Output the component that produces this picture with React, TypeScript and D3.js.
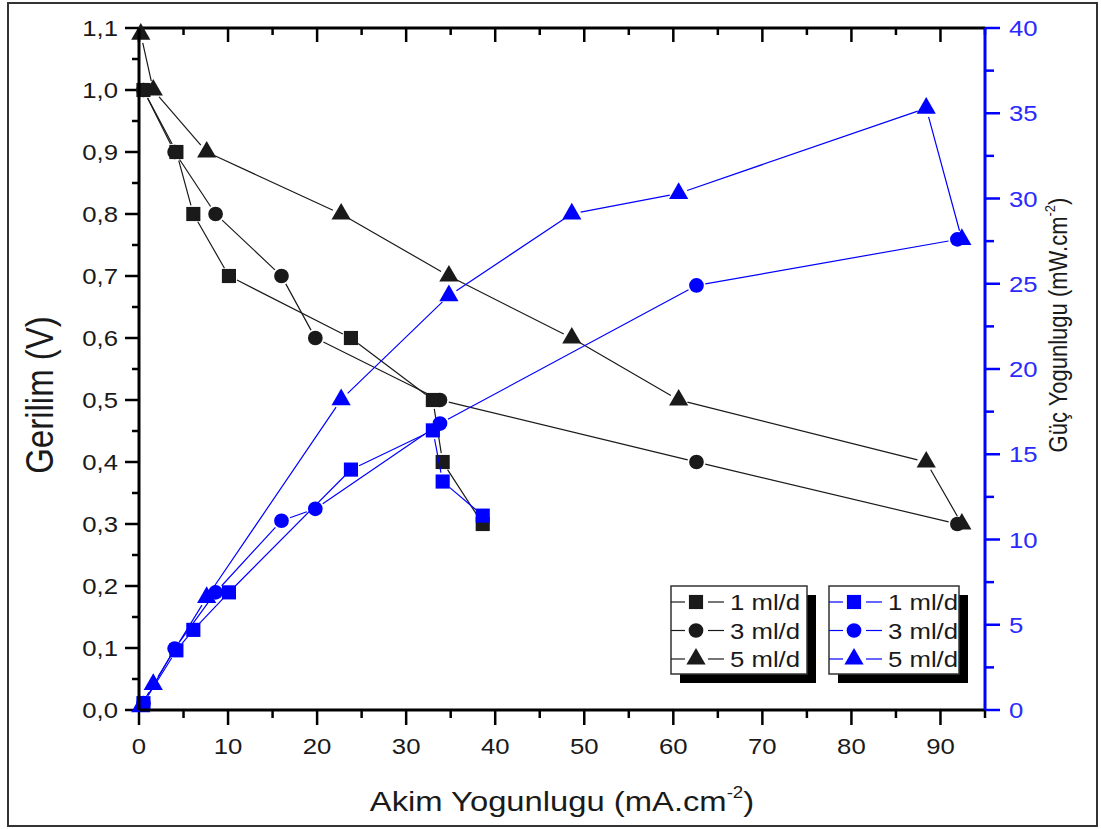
import React from "react";
import * as d3 from "d3";

// akim yogunlugu (mA/cm2), gerilim (V), guc yogunlugu (mW/cm2)
const current1 = [0.5, 4.2, 6.1, 10.1, 23.8, 33.0, 34.1, 38.6];
const voltage1 = [1.0, 0.9, 0.8, 0.7, 0.6, 0.5, 0.4, 0.3];
const power1 = [0.4, 3.5, 4.7, 6.9, 14.1, 16.4, 13.4, 11.4];

const current3 = [0.5, 4.0, 8.6, 16.0, 19.8, 33.8, 62.6, 91.9];
const voltage3 = [1.0, 0.9, 0.8, 0.7, 0.6, 0.5, 0.4, 0.3];
const power3 = [0.4, 3.6, 6.9, 11.1, 11.8, 16.8, 24.9, 27.6];

const current5 = [0.2, 1.6, 7.6, 22.7, 34.8, 48.6, 60.6, 88.4, 92.4];
const voltage5 = [1.09, 1.0, 0.9, 0.8, 0.7, 0.6, 0.5, 0.4, 0.3];
const power5 = [0.2, 1.5, 6.6, 18.2, 24.3, 29.1, 30.3, 35.3, 27.6];

const seriesLabels = ["1 ml/d", "3 ml/d", "5 ml/d"];
const xTicks = [0, 10, 20, 30, 40, 50, 60, 70, 80, 90];
const yTicks = [0, 0.1, 0.2, 0.3, 0.4, 0.5, 0.6, 0.7, 0.8, 0.9, 1.0, 1.1];
const y2Ticks = [0, 5, 10, 15, 20, 25, 30, 35, 40];

const BLACK = "#1a1a1a";
const BLUE = "#0000ff";
const FONT = "'Liberation Sans', Arial, sans-serif";
const SX = 1.17; // the picture's text is a bit wider than plain Arial

const left = 139, right = 985, top = 28, bottom = 710;

const x = d3.scaleLinear().domain([0, 95]).range([left, right]);
const y = d3.scaleLinear().domain([0, 1.1]).range([bottom, top]);
const y2 = d3.scaleLinear().domain([0, 40]).range([bottom, top]);

const shapes = [d3.symbolSquare, d3.symbolCircle, d3.symbolTriangle];
const sizes = [200, 170, 160];
const sym = (i: number) => d3.symbol().type(shapes[i]).size(sizes[i])() as string;

// Origin style: the line stops short of each symbol
function gapped(pts: [number, number][], gap = 9) {
  const segs: string[] = [];
  for (let i = 0; i < pts.length - 1; i++) {
    const [x0, y0] = pts[i];
    const [x1, y1] = pts[i + 1];
    const len = Math.hypot(x1 - x0, y1 - y0);
    if (len <= gap * 2) continue;
    const ux = (x1 - x0) / len, uy = (y1 - y0) / len;
    segs.push(`M${x0 + ux * gap},${y0 + uy * gap}L${x1 - ux * gap},${y1 - uy * gap}`);
  }
  return segs.join("");
}

function T({ x, y, anchor = "start", size = 22, fill = BLACK, children }: any) {
  return (
    <g transform={`translate(${x},${y}) scale(${SX},1)`}>
      <text textAnchor={anchor} fontSize={size} fill={fill}>{children}</text>
    </g>
  );
}

function Series({ xs, ys, scale, color, shape }: any) {
  const pts: [number, number][] = xs.map((v: number, i: number) => [x(v), scale(ys[i])]);
  return (
    <g>
      <path d={gapped(pts)} fill="none" stroke={color} strokeWidth={1.2} />
      {pts.map(([px, py], i) => (
        <path key={i} d={sym(shape)} transform={`translate(${px},${py})`} fill={color} />
      ))}
    </g>
  );
}

function Legend({ x0, color, lineColor, w }: any) {
  const y0 = 586, h = 88;
  return (
    <g>
      <rect x={x0 + 9} y={y0 + 9} width={w} height={h} fill="#000" />
      <rect x={x0} y={y0} width={w} height={h} fill="#fff" stroke="#333" strokeWidth={1.5} />
      {seriesLabels.map((lab, i) => {
        const ry = 602 + i * 28.5;
        return (
          <g key={lab}>
            <line x1={x0} x2={x0 + 14} y1={ry} y2={ry} stroke={lineColor} strokeWidth={1.2} />
            <line x1={x0 + 37} x2={x0 + 53} y1={ry} y2={ry} stroke={lineColor} strokeWidth={1.2} />
            <path d={sym(i)} transform={`translate(${x0 + 25},${ry})`} fill={color} />
            <T x={x0 + 59} y={ry + 8}>{lab}</T>
          </g>
        );
      })}
    </g>
  );
}

export default function App() {
  const xMinor = d3.range(0, 96, 5);
  const yMinor = d3.range(0, 23).map((i) => i * 0.05);
  const y2Minor = d3.range(0, 41, 2.5);
  const fmt = (v: number) => v.toFixed(1).replace(".", ",");
  return (
    <svg width={1101} height={829} style={{ position: "absolute", left: 0, top: 0, background: "#fff" }} fontFamily={FONT}>
      <rect x={8} y={3} width={1089} height={823} fill="#fff" stroke="#333" strokeWidth={2} />

      {/* bottom axis */}
      {xMinor.map((v) => (
        <line key={"bx" + v} x1={x(v)} x2={x(v)} y1={bottom} y2={bottom + (v % 10 === 0 ? 15 : 8)} stroke="#000" strokeWidth={2.5} />
      ))}
      {xTicks.map((v) => (
        <T key={"bl" + v} x={x(v)} y={754} anchor="middle">{v}</T>
      ))}
      {/* top axis, ticks inward */}
      {xMinor.map((v) => (
        <line key={"tx" + v} x1={x(v)} x2={x(v)} y1={top} y2={top + (v % 10 === 0 ? 14 : 7)} stroke="#000" strokeWidth={2.5} />
      ))}
      <line x1={left} x2={right} y1={top} y2={top} stroke="#000" strokeWidth={3} />

      {/* left axis */}
      {yMinor.map((v, i) => (
        <line key={"ly" + i} x1={left} x2={left - (i % 2 === 0 ? 14 : 7)} y1={y(v)} y2={y(v)} stroke="#000" strokeWidth={2.5} />
      ))}
      {yTicks.map((v) => (
        <T key={"yl" + v} x={118} y={y(v) + 8} anchor="end">{fmt(v)}</T>
      ))}

      {/* right axis */}
      {y2Minor.map((v) => (
        <line key={"ry" + v} x1={right} x2={right + (v % 5 === 0 ? 15 : 9)} y1={y2(v)} y2={y2(v)} stroke={BLUE} strokeWidth={2.5} />
      ))}
      {y2Ticks.map((v) => (
        <T key={"rl" + v} x={1009} y={y2(v) + 8} fill="#2a2aff">{v}</T>
      ))}

      <Series xs={current1} ys={voltage1} scale={y} color={BLACK} shape={0} />
      <Series xs={current3} ys={voltage3} scale={y} color={BLACK} shape={1} />
      <Series xs={current5} ys={voltage5} scale={y} color={BLACK} shape={2} />
      <Series xs={current1} ys={power1} scale={y2} color={BLUE} shape={0} />
      <Series xs={current3} ys={power3} scale={y2} color={BLUE} shape={1} />
      <Series xs={current5} ys={power5} scale={y2} color={BLUE} shape={2} />

      <line x1={left} x2={right} y1={bottom} y2={bottom} stroke="#000" strokeWidth={3} />
      <line x1={left} x2={left} y1={top} y2={bottom} stroke="#000" strokeWidth={3} />
      <line x1={right} x2={right} y1={top} y2={bottom} stroke={BLUE} strokeWidth={3} />

      <Legend x0={671} w={136} color={BLACK} lineColor={BLACK} />
      <Legend x0={829} w={130} color={BLUE} lineColor={BLUE} />

      {/* axis titles */}
      <T x={562} y={811} size={28} anchor="middle">
        Akim Yogunlugu (mA.cm<tspan fontSize={16} dy={-13}>-2</tspan><tspan dy={13}>)</tspan>
      </T>
      <g transform={`translate(53,395) scale(${SX},1) rotate(-90)`}>
        <text fontSize={33} textAnchor="middle" fill={BLACK}>Gerilim (V)</text>
      </g>
      <g transform={`translate(1067,325) scale(${SX},1) rotate(-90)`}>
        <text fontSize={22} textAnchor="middle" fill={BLACK}>
          Güç Yogunlugu (mW.cm<tspan fontSize={13} dy={-10}>-2</tspan><tspan dy={10}>)</tspan>
        </text>
      </g>
    </svg>
  );
}
